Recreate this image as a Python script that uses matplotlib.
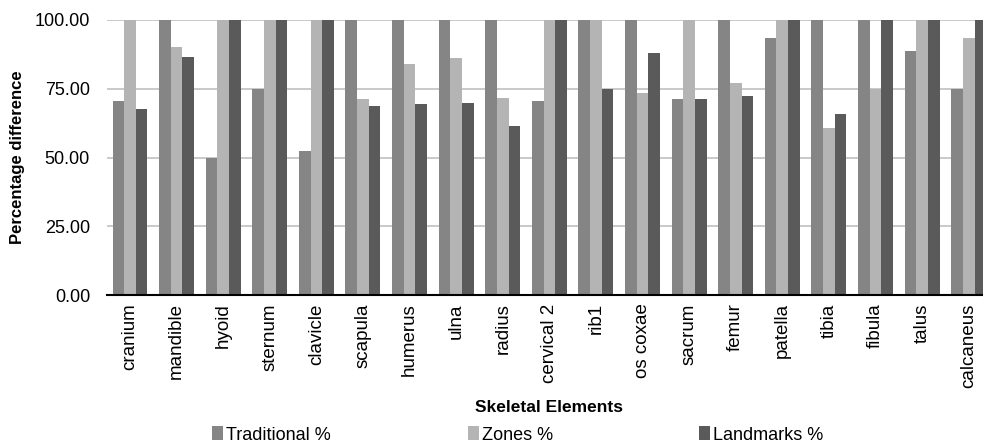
import matplotlib
matplotlib.use("Agg")
import matplotlib.pyplot as plt
import numpy as np
from matplotlib.patches import Patch

categories = ["cranium", "mandible", "hyoid", "sternum", "clavicle", "scapula", "humerus",
              "ulna", "radius", "cervical 2", "rib1", "os coxae", "sacrum", "femur",
              "patella", "tibia", "fibula", "talus", "calcaneus"]
traditional = [70.5, 100, 50.0, 75.0, 52.4, 100, 100, 100, 100, 70.5, 100, 100, 71.2, 100,
               93.3, 100, 100, 88.6, 75.0]
zones = [100, 90.3, 100, 100, 100, 71.2, 83.9, 86.1, 71.8, 100, 100, 73.5, 100, 77.1,
         100, 60.8, 75.0, 100, 93.3]
landmarks = [67.6, 86.7, 100, 100, 100, 68.6, 69.3, 69.9, 61.5, 100, 75.0, 88.0, 71.2, 72.2,
             100, 65.7, 100, 100, 100]
series_names = ["Traditional %", "Zones %", "Landmarks %"]
yticks = [0, 25, 50, 75, 100]

colors = ["#858585", "#b4b4b4", "#5a5a5a"]
plt.rcParams['font.family'] = ['Liberation Sans', 'DejaVu Sans']

fig = plt.figure(figsize=(9.83, 4.43), dpi=100)
W, H = 983, 443
left_px, right_px, top_px, bot_px = 106.7, 992, 20, 295
ax = fig.add_axes([left_px / W, 1 - bot_px / H, (right_px - left_px) / W, (bot_px - top_px) / H])

x = np.arange(len(categories))
bw = 0.25
for i, (vals, c) in enumerate(zip([traditional, zones, landmarks], colors)):
    ax.bar(x + (i - 1) * bw, vals, width=bw, color=c, zorder=3, linewidth=0)

ax.set_xlim(-0.5, len(categories) - 0.5)
ax.set_ylim(0, 100)
ax.set_yticks(yticks)
ax.set_yticklabels([f"{v:.2f}" for v in yticks], fontsize=13)
ax.yaxis.grid(True, color="#c0c0c0", linewidth=1.2, zorder=0)
ax.set_axisbelow(True)
for s in ["top", "right", "left"]:
    ax.spines[s].set_visible(False)
ax.spines["bottom"].set_color("black")
ax.spines["bottom"].set_linewidth(1.5)
ax.spines["bottom"].set_zorder(4)
ax.tick_params(axis="y", length=0, pad=12)
ax.tick_params(axis="x", length=0, pad=6)
ax.set_xticks(x)
ax.set_xticklabels(categories, rotation=90, fontsize=13.5)

ax.set_ylabel("Percentage difference", fontsize=12, fontweight="bold", labelpad=7)
ax.set_xlabel("Skeletal Elements", fontsize=12.5, fontweight="bold")
ax.xaxis.set_label_coords((549 - left_px) / (right_px - left_px), -(400 - bot_px) / (bot_px - top_px))

legend_x = [220, 476, 707]
for name, c, lx in zip(series_names, colors, legend_x):
    fig.legend(handles=[Patch(facecolor=c, edgecolor="none")], labels=[name],
               loc="center left", bbox_to_anchor=((lx - 8) / W, 1 - 435 / H),
               frameon=False, fontsize=13, handlelength=0.6, handleheight=0.8,
               handletextpad=0.2, borderpad=0, borderaxespad=0)

fig.savefig("out.png", dpi=100)
